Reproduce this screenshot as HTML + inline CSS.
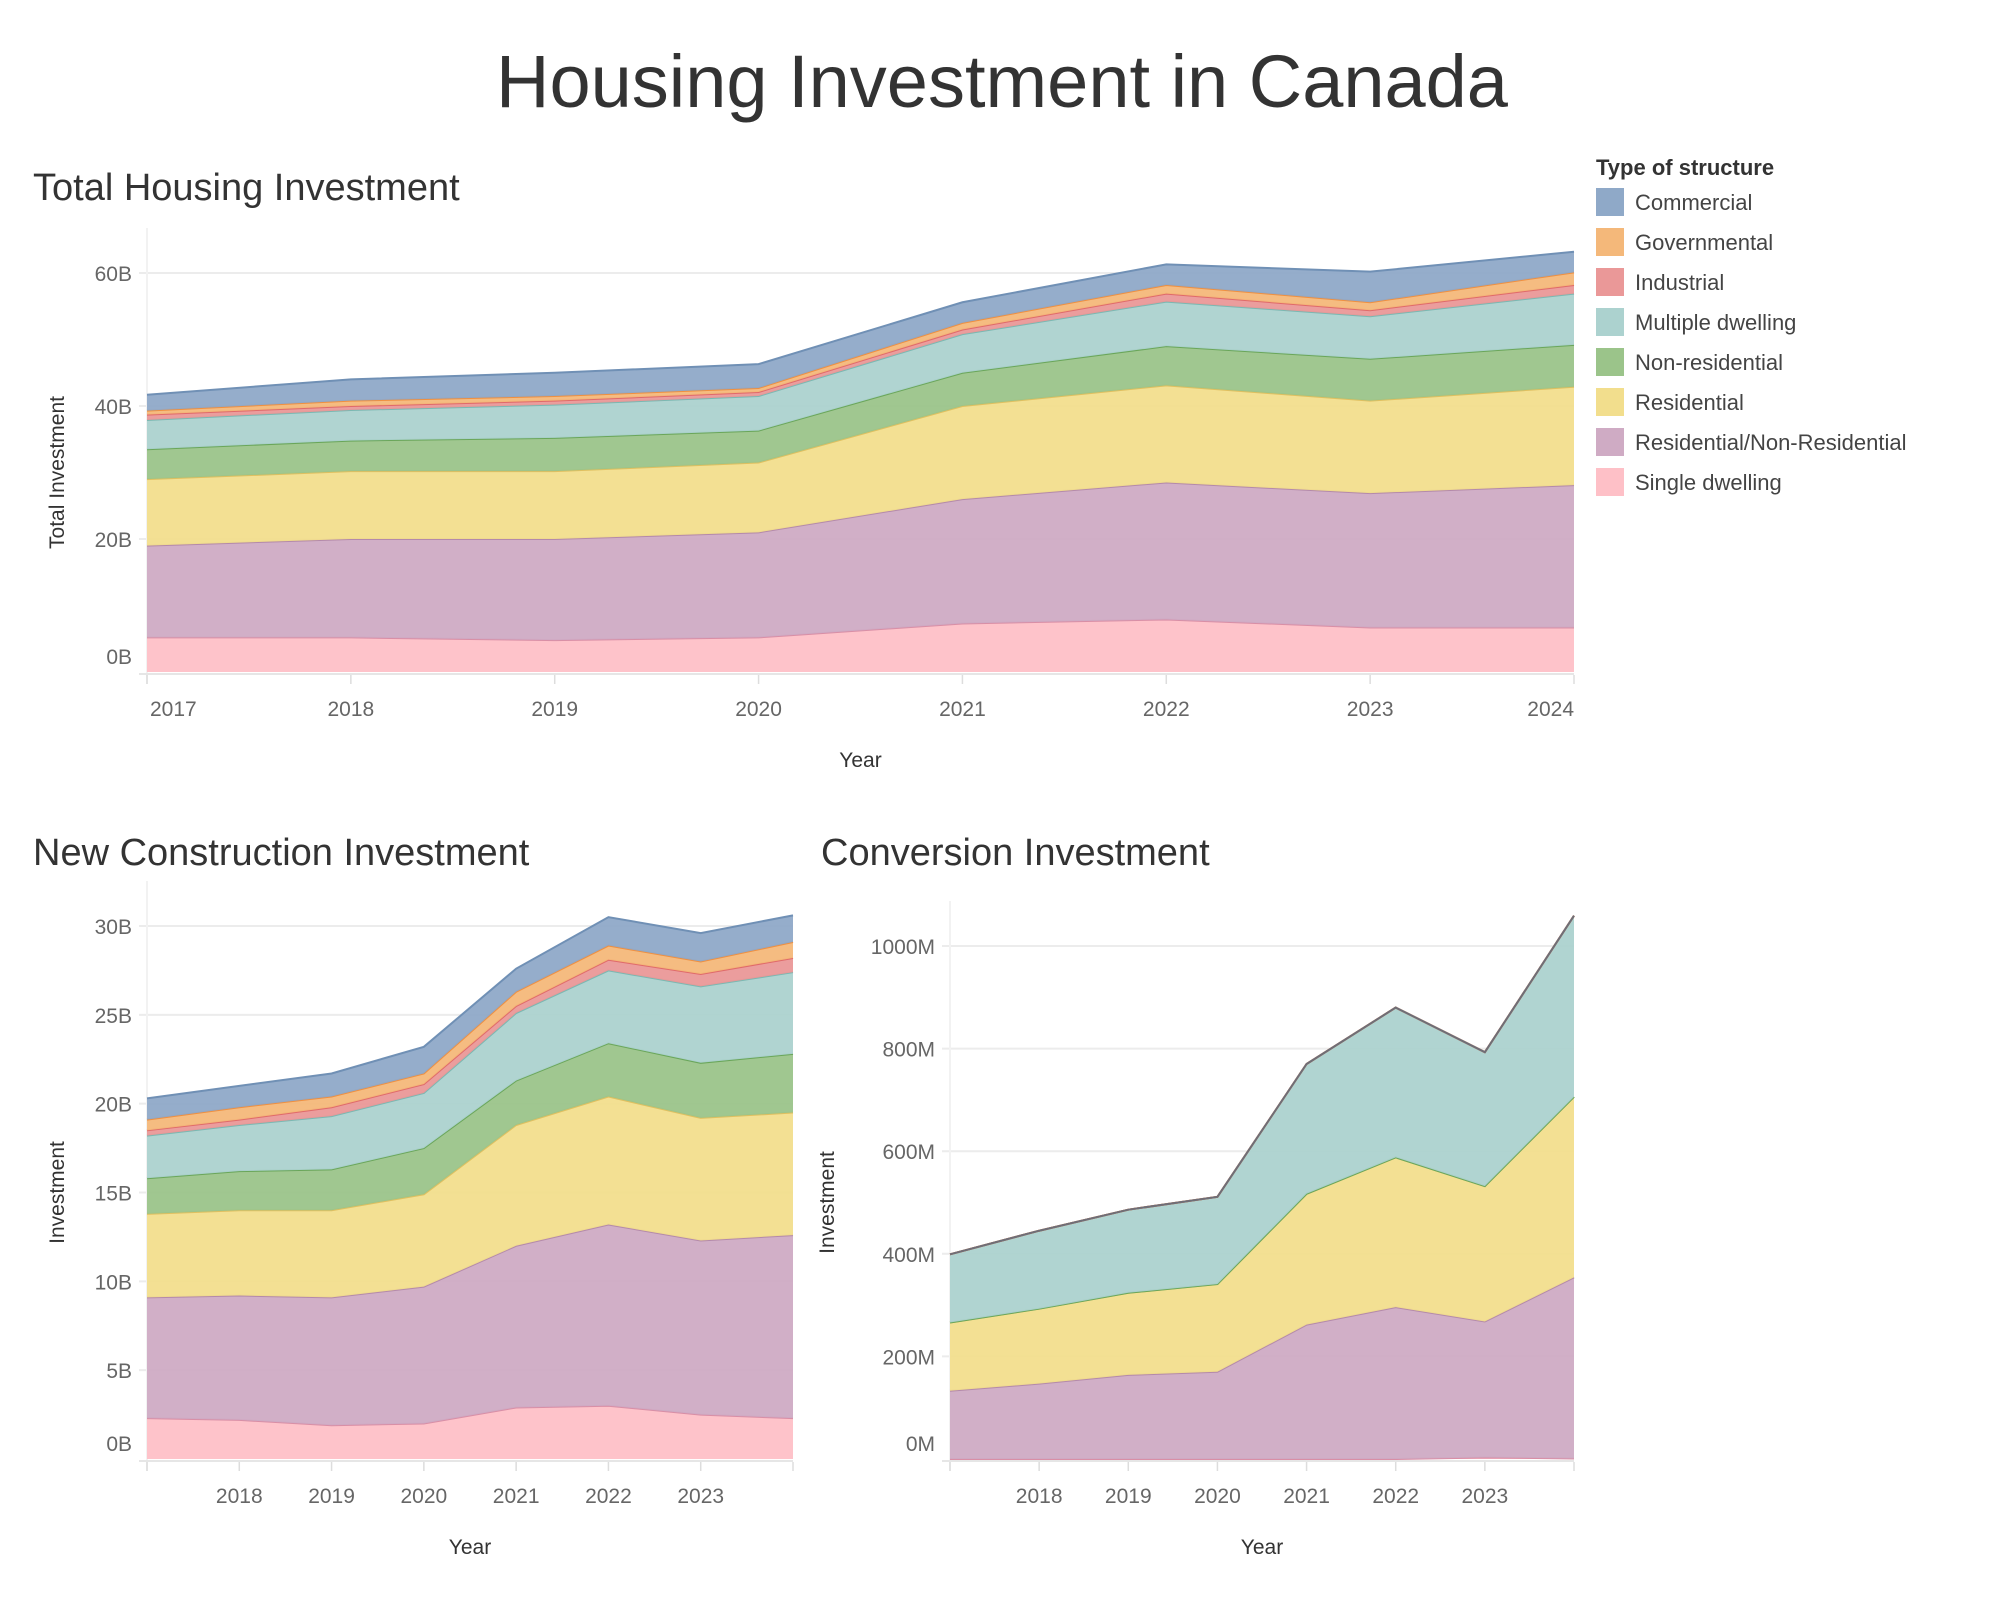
<!DOCTYPE html>
<html><head><meta charset="utf-8"><style>
html,body{margin:0;padding:0;background:#fff;}
svg{display:block;font-family:"Liberation Sans","DejaVu Sans",sans-serif;}
</style></head><body>
<svg id="root" width="1998" height="1598" viewBox="0 0 1998 1598" xmlns="http://www.w3.org/2000/svg">
<text x="1002" y="107" font-size="74" fill="#333" text-anchor="middle">Housing Investment in Canada</text>
<text x="33" y="200" font-size="38" fill="#333">Total Housing Investment</text>
<text x="33" y="865" font-size="38" fill="#333">New Construction Investment</text>
<text x="821" y="865" font-size="38" fill="#333">Conversion Investment</text>
<g id="legend">
<text x="1596" y="175" font-size="22" fill="#333" font-weight="bold">Type of structure</text>
</g>
<g id="charts"></g>
</svg>
<script>
// series order bottom -> top
const seriesNames = ["Single dwelling","Residential/Non-Residential","Residential","Non-residential","Multiple dwelling","Industrial","Governmental","Commercial"];
const years = [2017,2018,2019,2020,2021,2022,2023,2024];
// Total (billions)
const totalSingle = [5.2,5.2,4.8,5.2,7.3,7.9,6.7,6.7];
const totalResNR = [13.8,14.8,15.2,15.8,18.7,20.6,20.2,21.4];
const totalRes = [10.0,10.2,10.2,10.5,14.0,14.6,13.9,14.8];
const totalNonRes = [4.5,4.6,5.0,4.8,5.0,5.9,6.3,6.3];
const totalMultiple = [4.4,4.6,5.0,5.2,5.8,6.7,6.4,7.7];
const totalIndustrial = [0.8,0.6,0.6,0.6,0.7,1.2,0.9,1.3];
const totalGov = [0.6,0.8,0.7,0.6,1.0,1.3,1.2,1.9];
const totalCommercial = [2.4,3.2,3.5,3.6,3.1,3.1,4.6,3.1];
// New construction (billions)
const newSingle = [2.3,2.2,1.9,2.0,2.9,3.0,2.5,2.3];
const newResNR = [6.8,7.0,7.2,7.7,9.1,10.2,9.8,10.3];
const newRes = [4.7,4.8,4.9,5.2,6.8,7.2,6.9,6.9];
const newNonRes = [2.0,2.2,2.3,2.6,2.5,3.0,3.1,3.3];
const newMultiple = [2.4,2.6,3.0,3.1,3.8,4.1,4.3,4.6];
const newIndustrial = [0.3,0.3,0.5,0.5,0.4,0.6,0.7,0.8];
const newGov = [0.6,0.7,0.6,0.6,0.8,0.8,0.7,0.9];
const newCommercial = [1.2,1.2,1.3,1.5,1.3,1.6,1.6,1.5];
// Conversion (millions)
const convSingle = [0,0,0,0,0,0,3,1];
const convResNR = [133,147,164,170,262,296,265,353];
const convRes = [133,146,160,171,255,292,264,352];
const convNonRes = [0,0,0,0,0,0,0,0];
const convMultiple = [133,152,162,170,253,292,261,353];
const convIndustrial = [0,0,0,0,0,0,0,0];
const convGov = [0,0,0,0,0,0,0,0];
const convCommercial = [0,0,0,0,0,0,0,0];
const yTicksTotal = [0,20,40,60];
const yTicksNew = [0,5,10,15,20,25,30];
const yTicksConv = [0,200,400,600,800,1000];

const fills = ["#fec0c7","#cfabc4","#f2de8d","#9bc48a","#acd2cf","#ea9898","#f4b87a","#8fa9c8"];
const strokes = ["#d98fa6","#b48aaa","#e0c060","#6aa65a","#7bb8b2","#e06a6a","#f09040","#7090b5"];
const NS = "http://www.w3.org/2000/svg";
const charts = document.getElementById('charts');
function mk(tag, attrs, parent){const e=document.createElementNS(NS,tag);for(const k in attrs)e.setAttribute(k,attrs[k]);(parent||charts).appendChild(e);return e;}

function drawChart(cfg){
  const g = mk('g',{});
  
  
  const xs = v => cfg.x0 + (v - years[0])/(years[years.length-1]-years[0])*(cfg.x1-cfg.x0);
  const ys = v => cfg.y0 - (v/cfg.vmax)*(cfg.y0-cfg.yTop);
  cfg.ticks.forEach(t=>{
    if(t>0){const l=mk('line',{x1:cfg.x0-8,x2:cfg.x1,y1:ys(t),y2:ys(t),stroke:'#ececec','stroke-width':2},g);
    
    }
    const tx=mk('text',{x:cfg.x0-15,y:ys(t)+ (t===0?-8:8),'font-size':21,fill:'#666','text-anchor':'end'},g);
    tx.textContent=t+cfg.unit;
    
    
  });
  const al=mk('line',{x1:cfg.x0,x2:cfg.x0,y1:cfg.yTop-45,y2:cfg.y0+12,stroke:'#f2f2f2','stroke-width':2},g);
  
  
  const bl=mk('line',{x1:cfg.x0-8,x2:cfg.x1,y1:cfg.y0+2,y2:cfg.y0+2,stroke:'#e6e6e6','stroke-width':2},g);
  
  
  let base = years.map(()=>0);
  cfg.series.forEach((s,i)=>{
    const top = base.map((b,j)=>b+s[j]);
    let d = 'M'+years.map((y,j)=>xs(y)+','+ys(top[j])).join(' L');
    d += ' L'+years.slice().reverse().map((y,j)=>xs(y)+','+ys(base[base.length-1-j])).join(' L')+' Z';
    const p=mk('path',{d:d,fill:fills[i],'fill-opacity':0.95},g);
    
    
    const ln=mk('path',{d:'M'+years.map((y,j)=>xs(y)+','+ys(top[j])).join(' L'),fill:'none',stroke:(cfg.topLine&&i===cfg.series.length-1)?'#6e6e78':strokes[i],'stroke-width':2},g);
    
    
    base = top;
  });
  years.forEach((y,j)=>{
    const tk=mk('line',{x1:xs(y),x2:xs(y),y1:cfg.y0+3,y2:cfg.y0+12,stroke:'#ddd','stroke-width':1.5},g);
    
    
    if(cfg.skipEnds && (j===0||j===years.length-1)) return;
    let anchor='middle', xx=xs(y);
    if(!cfg.skipEnds && j===0){anchor='start';xx+=3;}
    if(!cfg.skipEnds && j===years.length-1){anchor='end';}
    const t=mk('text',{x:xx,y:cfg.y0+44,'font-size':21,fill:'#666','text-anchor':anchor},g);
    t.textContent=y;
    
    
  });
  const xt=mk('text',{x:(cfg.x0+cfg.x1)/2,y:cfg.y0+95,'font-size':21,fill:'#333','text-anchor':'middle'},g);
  xt.textContent='Year';
  
  
  const cy=(cfg.y0+cfg.yTop)/2;
  const yt=mk('text',{x:cfg.ylx,y:cy,'font-size':21,fill:'#333','text-anchor':'middle',transform:'rotate(-90 '+cfg.ylx+' '+cy+')'},g);
  yt.textContent=cfg.ylabel;
  
  
}

drawChart({name:'total-investment-chart',x0:147,x1:1574,y0:672,yTop:273,vmax:60,ticks:yTicksTotal,unit:'B',ylabel:'Total Investment',ylx:64,
  series:[totalSingle,totalResNR,totalRes,totalNonRes,totalMultiple,totalIndustrial,totalGov,totalCommercial]});
drawChart({name:'new-construction-chart',x0:147,x1:793,y0:1459,yTop:926,vmax:30,ticks:yTicksNew,unit:'B',ylabel:'Investment',ylx:64,skipEnds:true,
  series:[newSingle,newResNR,newRes,newNonRes,newMultiple,newIndustrial,newGov,newCommercial]});
drawChart({name:'conversion-chart',x0:950,x1:1574,y0:1459,yTop:946,vmax:1000,ticks:yTicksConv,unit:'M',ylabel:'Investment',ylx:834,skipEnds:true,topLine:true,
  series:[convSingle,convResNR,convRes,convNonRes,convMultiple,convIndustrial,convGov,convCommercial]});

const legend=document.getElementById('legend');
const legendOrder=[7,6,5,4,3,2,1,0];
legendOrder.forEach((si,k)=>{
  const y=188+k*40;
  const r=mk('rect',{x:1596,y:y,width:28,height:28,fill:fills[si]},legend);
  
  
  const t=mk('text',{x:1635,y:y+22,'font-size':22,fill:'#444'},legend);
  t.textContent=seriesNames[si];
  
  
});
</script>
</body></html>
